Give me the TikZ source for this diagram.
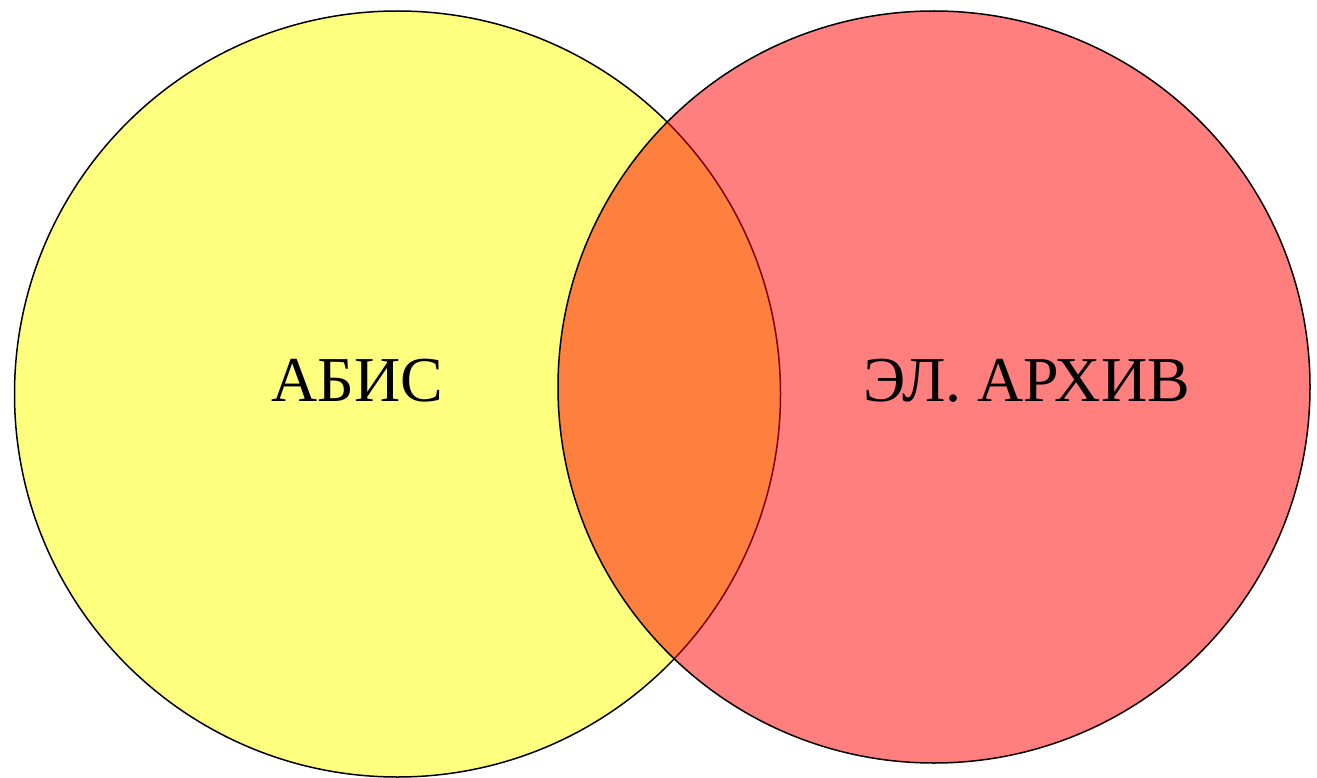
\documentclass[tikz,border=0pt]{standalone}
\usepackage{fontspec}
\setmainfont{Liberation Serif}
\begin{document}
\begin{tikzpicture}[x=1pt,y=-1pt,
  venn/.style={draw=black,line width=1.5pt,fill opacity=0.5},
  lbl/.style={font=\fontsize{64}{70}\selectfont,inner sep=0pt}]
\useasboundingbox (0,0) rectangle (1317,778);
\path[venn,fill={rgb,255:red,255;green,255;blue,0}] (397.5,394) circle (383pt);
\path[venn,fill={rgb,255:red,255;green,0;blue,0}] (934,387) circle (376pt);
\node[lbl] (abis) at (357,381) {АБИС};
\node[lbl] (arch) at (1027,381) {ЭЛ. АРХИВ};
\end{tikzpicture}
\end{document}
